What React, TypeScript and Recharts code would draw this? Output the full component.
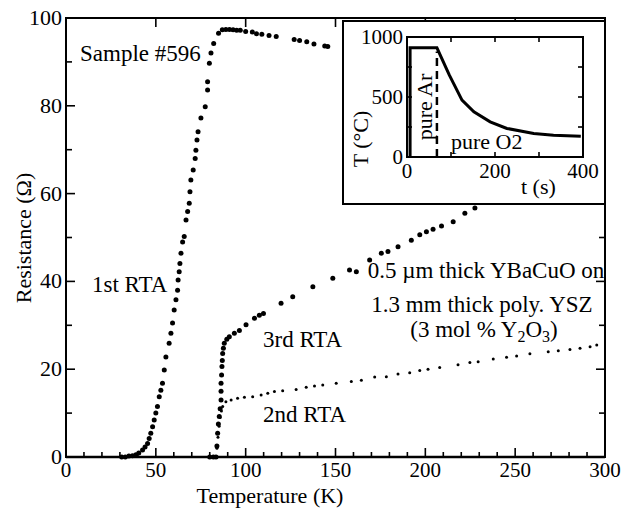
import { Line, LineChart, ReferenceArea, Scatter, ScatterChart, XAxis, YAxis } from "recharts";

// 1st RTA
const rta1T = [31, 33, 35, 37, 38.9, 40.5, 42.6, 44, 45.4, 46.3, 47.2, 48.2, 49.1, 50, 50.9, 51.9, 52.8, 53.7, 54.7, 55.6, 57.4, 58.4, 59.3, 60.2, 61.2, 62.1, 62.4, 63, 63.4, 64, 64.9, 65.8, 66.8, 67.7, 68.6, 69, 69.5, 70.8, 71.9, 72.3, 72.9, 73.5, 75.1, 77.5, 78.8, 78.8, 79.8, 80.7, 82.2, 84.9, 87, 89, 91, 93, 95, 97, 100, 103.7, 106, 109, 113, 117, 127, 130, 134, 138, 144, 145.7];
const rta1R = [0, 0, 0.2, 0.3, 0.5, 0.9, 1.6, 2.3, 3.1, 4.2, 5.4, 6.9, 8.4, 10, 11.5, 13.7, 15.2, 16.8, 19.8, 22.8, 25.9, 28.2, 30.5, 33.5, 35.8, 38, 40.3, 42.2, 44.1, 46.4, 49, 50.2, 54, 55.9, 57.8, 60.4, 63.1, 65.4, 68, 69.9, 72.2, 74.1, 77.2, 79.8, 83.6, 85.5, 89.7, 92, 94.2, 96.5, 97.3, 97.4, 97.4, 97.3, 97.2, 97.2, 96.9, 96.8, 96.4, 96.3, 96, 95.8, 95.1, 94.9, 94.6, 94.1, 93.6, 93.5];

// 2nd RTA
const rta2T = [83.5, 84, 84.6, 85.2, 85.8, 86.5, 87.2, 89, 91.9, 95.5, 99.3, 103.9, 108.6, 112.3, 116, 120.6, 128.1, 133.7, 138.3, 142.9, 150.4, 158.8, 164.4, 171.8, 178.3, 184.8, 191.3, 196.9, 201.5, 208, 218.2, 224.8, 229.4, 237.8, 245.2, 250.8, 258.2, 268.4, 274, 280.5, 286.1, 291.7, 295.4];
const rta2R = [0, 2, 4.5, 7, 9, 10.5, 11.5, 12.6, 13, 13.4, 13.6, 13.7, 14.1, 14.5, 14.9, 15.1, 15.4, 15.9, 16.2, 16.4, 16.8, 17.2, 17.5, 18.2, 18.3, 18.9, 19.2, 19.7, 20, 20.4, 21, 21.5, 21.7, 22.3, 22.7, 23, 23.5, 24, 24.2, 24.5, 24.8, 25.1, 25.5];

// 3rd RTA
const rta3T = [80, 82, 83.5, 84, 84.4, 84.8, 85.3, 85.8, 86.3, 86.3, 86.3, 86.6, 86.8, 87, 87.2, 87.6, 88.1, 89.5, 90.9, 93.7, 96.5, 100.2, 104.9, 107.6, 109.9, 119.7, 126.2, 137.4, 148.5, 157.8, 161.6, 169, 175.5, 179.2, 184.8, 192.2, 196.9, 200.6, 204.3, 209, 215.5, 222, 227.6];
const rta3R = [0, 0, 0, 2.5, 5.4, 7.5, 9.2, 11, 13, 15, 16.8, 18.7, 20.6, 22, 23.6, 24.8, 25.9, 26.8, 27.4, 28.2, 28.8, 30.1, 31.6, 32.3, 32.7, 35, 36.5, 38.8, 40.7, 42.6, 42.2, 44.9, 46.4, 46.8, 47.9, 49.4, 50.6, 51.3, 51.9, 52.6, 53.6, 55.5, 56.7];

// inset: anneal profile
const insetT = [7, 7, 68, 96, 125, 152, 189, 227, 288, 333, 395];
const insetC = [0, 910, 910, 684, 474, 377, 293, 238, 196, 182, 173];
const switchT = [68, 68];
const switchC = [0, 880];

const xTicks = [0, 10, 20, 30, 40, 50, 60, 70, 80, 90, 100, 110, 120, 130, 140, 150, 160, 170, 180, 190, 200, 210, 220, 230, 240, 250, 260, 270, 280, 290, 300];
const yTicks = [0, 10, 20, 30, 40, 50, 60, 70, 80, 90, 100];
const insetXTicks = [0, 100, 200, 300, 400];
const insetYTicks = [0, 250, 500, 750, 1000];

const FONT = "'Liberation Serif', 'Times New Roman', serif";
const W = 622;
const H = 510;
const PLOT_W = 539;
const PLOT_H = 439;
const IN_W = 260;
const IN_H = 181;
const IN_PW = 176;
const IN_PH = 120;

const toPts = (xs: number[], ys: number[], kx: string, ky: string) =>
  xs.map((v, i) => ({ [kx]: v, [ky]: ys[i] }));

const dot = (r: number) => (p: any) => <circle cx={p.cx} cy={p.cy} r={r} fill="#000" />;

const MainXTick = (p: any) => {
  const v = p.payload.value;
  const major = v % 50 === 0;
  return (
    <g>
      <line x1={p.x} y1={p.y} x2={p.x} y2={p.y - (major ? 9 : 5)} stroke="#000" strokeWidth={1.6} />
      {major && <line x1={p.x} y1={p.y - PLOT_H} x2={p.x} y2={p.y - PLOT_H + 9} stroke="#000" strokeWidth={1.6} />}
      {major && (
        <text x={p.x} y={p.y + 20} textAnchor="middle" fontSize={21} fontFamily={FONT} fill="#000">
          {v}
        </text>
      )}
    </g>
  );
};

const MainYTick = (p: any) => {
  const v = p.payload.value;
  const major = v % 20 === 0;
  return (
    <g>
      <line x1={p.x} y1={p.y} x2={p.x + (major ? 9 : 6)} y2={p.y} stroke="#000" strokeWidth={1.6} />
      <line x1={p.x + PLOT_W} y1={p.y} x2={p.x + PLOT_W - (major ? 9 : 6)} y2={p.y} stroke="#000" strokeWidth={1.6} />
      {major && (
        <text x={p.x - 4} y={p.y + 7} textAnchor="end" fontSize={22} fontFamily={FONT} fill="#000">
          {v}
        </text>
      )}
    </g>
  );
};

const InsetXTick = (p: any) => {
  const v = p.payload.value;
  return (
    <g>
      <line x1={p.x} y1={p.y} x2={p.x} y2={p.y - 5} stroke="#000" strokeWidth={1.6} />
      <line x1={p.x} y1={p.y - IN_PH} x2={p.x} y2={p.y - IN_PH + 5} stroke="#000" strokeWidth={1.6} />
      {v % 200 === 0 && (
        <text x={p.x} y={p.y + 21} textAnchor="middle" fontSize={21} fontFamily={FONT} fill="#000">
          {v}
        </text>
      )}
    </g>
  );
};

const InsetYTick = (p: any) => {
  const v = p.payload.value;
  return (
    <g>
      <line x1={p.x} y1={p.y} x2={p.x + 5} y2={p.y} stroke="#000" strokeWidth={1.6} />
      <line x1={p.x + IN_PW} y1={p.y} x2={p.x + IN_PW - 5} y2={p.y} stroke="#000" strokeWidth={1.6} />
      {v % 500 === 0 && (
        <text x={p.x - 4} y={p.y + 7} textAnchor="end" fontSize={21} fontFamily={FONT} fill="#000">
          {v}
        </text>
      )}
    </g>
  );
};

export default function App() {
  const s1 = toPts(rta1T, rta1R, "T", "R");
  const s2 = toPts(rta2T, rta2R, "T", "R");
  const s3 = toPts(rta3T, rta3R, "T", "R");
  const profile = toPts(insetT, insetC, "t", "c");
  const gasSwitch = toPts(switchT, switchC, "t", "c");
  const txt = { fontFamily: FONT, fill: "#000" };

  return (
    <div style={{ position: "absolute", left: 0, top: 0, width: W, height: H, background: "#fff" }}>
      <ScatterChart width={W} height={H} margin={{ top: 18, right: 17, bottom: 0, left: 0 }}>
        <XAxis
          type="number"
          dataKey="T"
          domain={[0, 300]}
          ticks={xTicks}
          interval={0}
          tickSize={0}
          tickMargin={0}
          height={53}
          tick={<MainXTick />}
          axisLine={{ stroke: "#000", strokeWidth: 2.5 }}
        />
        <YAxis
          type="number"
          dataKey="R"
          domain={[0, 100]}
          ticks={yTicks}
          interval={0}
          tickSize={0}
          tickMargin={0}
          width={66}
          tick={<MainYTick />}
          axisLine={{ stroke: "#000", strokeWidth: 2 }}
        />
        <ReferenceArea x1={0} x2={300} y1={0} y2={100} fill="none" stroke="#000" strokeWidth={2} />
        <Scatter data={s1} shape={dot(2.5)} isAnimationActive={false} />
        <Scatter data={s3} shape={dot(2.5)} isAnimationActive={false} />
        <Scatter data={s2} shape={dot(1.5)} isAnimationActive={false} />
      </ScatterChart>

      <svg width={W} height={H} style={{ position: "absolute", left: 0, top: 0, pointerEvents: "none" }}>
        <text x={80} y={61} fontSize={23} {...txt}>Sample #596</text>
        <text x={92} y={292} fontSize={23} {...txt}>1st RTA</text>
        <text x={263} y={347} fontSize={23} {...txt}>3rd RTA</text>
        <text x={263} y={422} fontSize={23} {...txt}>2nd RTA</text>
        <text x={486} y={278} fontSize={23} textAnchor="middle" {...txt}>0.5 µm thick YBaCuO on</text>
        <text x={482} y={312} fontSize={23} textAnchor="middle" {...txt}>1.3 mm thick poly. YSZ</text>
        <text x={484} y={337} fontSize={23} textAnchor="middle" {...txt}>
          (3 mol % Y<tspan dy={5} fontSize={16}>2</tspan><tspan dy={-5}>O</tspan><tspan dy={5} fontSize={16}>3</tspan><tspan dy={-5}>)</tspan>
        </text>
        <text x={270} y={503} fontSize={22} textAnchor="middle" {...txt}>Temperature (K)</text>
        <text x={31} y={238} fontSize={22} textAnchor="middle" transform="rotate(-90 31 238)" {...txt}>Resistance (Ω)</text>
      </svg>

      <div
        style={{
          position: "absolute",
          left: 342,
          top: 20,
          width: IN_W + 4,
          height: IN_H + 4,
          boxSizing: "border-box",
          border: "2px solid #000",
          background: "#fff",
        }}
      >
        <LineChart width={IN_W} height={IN_H} margin={{ top: 15, right: 21, bottom: 0, left: 0 }}>
          <XAxis
            type="number"
            dataKey="t"
            domain={[0, 400]}
            ticks={insetXTicks}
            interval={0}
            tickSize={0}
            tickMargin={0}
            height={46}
            tick={<InsetXTick />}
            axisLine={{ stroke: "#000", strokeWidth: 2 }}
          />
          <YAxis
            type="number"
            dataKey="c"
            domain={[0, 1000]}
            ticks={insetYTicks}
            interval={0}
            tickSize={0}
            tickMargin={0}
            width={63}
            tick={<InsetYTick />}
            axisLine={{ stroke: "#000", strokeWidth: 2 }}
          />
          <ReferenceArea x1={0} x2={400} y1={0} y2={1000} fill="none" stroke="#000" strokeWidth={2} />
          <Line data={profile} dataKey="c" type="linear" stroke="#000" strokeWidth={3} dot={false} isAnimationActive={false} />
          <Line data={gasSwitch} dataKey="c" type="linear" stroke="#000" strokeWidth={2.5} strokeDasharray="8 5" dot={false} isAnimationActive={false} />
        </LineChart>
        <svg width={IN_W} height={IN_H} style={{ position: "absolute", left: 0, top: 0, pointerEvents: "none" }}>
          <text x={24} y={117} fontSize={22} textAnchor="middle" transform="rotate(-90 24 117)" {...txt}>T (°C)</text>
          <text x={88} y={85} fontSize={22} textAnchor="middle" transform="rotate(-90 88 85)" {...txt}>pure Ar</text>
          <text x={107} y={127} fontSize={22} {...txt}>pure O2</text>
          <text x={177} y={172} fontSize={22} {...txt}>t (s)</text>
        </svg>
      </div>
    </div>
  );
}
